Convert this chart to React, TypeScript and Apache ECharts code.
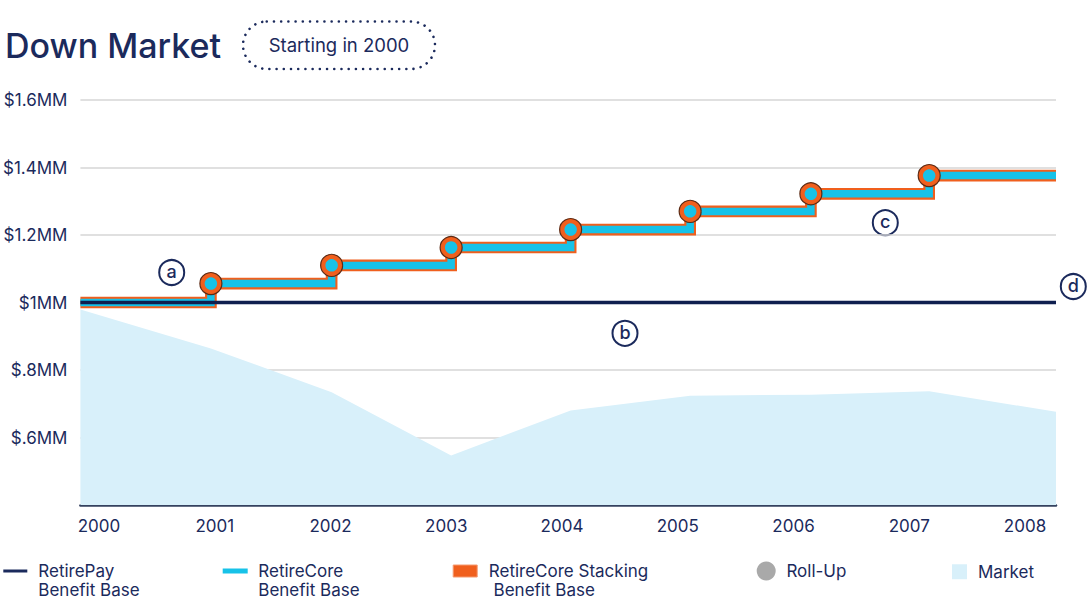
import React, { useEffect, useRef } from 'react';
import * as echarts from 'echarts';

const NAVY = '#1b2a5c';
const ORANGE = '#f05f1d';
const CYAN = '#17c2e8';
const MARKET_FILL = '#d8f0fa';
const GRID_COLOR = '#d6d6d6';
const AXIS_COLOR = '#34425f';
const FONT = 'Inter';

// Data
const pointYears = [2000, 2001.07, 2002.06, 2003.04, 2004.02, 2005.0, 2005.99, 2006.96, 2008];
const marketValues = [0.979, 0.864, 0.734, 0.547, 0.68, 0.724, 0.727, 0.737, 0.676];
const coreValues = [1.0, 1.056, 1.11, 1.163, 1.216, 1.27, 1.322, 1.376, 1.376];
const rollUpYears = [2001.07, 2002.06, 2003.04, 2004.02, 2005.0, 2005.99, 2006.96];
const rollUpValues = [1.056, 1.11, 1.163, 1.216, 1.27, 1.322, 1.376];
const payYears = [2000, 2008];
const payValues = [1.0, 1.0];
const xTickLabels = ['2000', '2001', '2002', '2003', '2004', '2005', '2006', '2007', '2008'];
const yTickValues = [0.4, 0.6, 0.8, 1.0, 1.2, 1.4, 1.6];
const yTickLabels = ['', '$.6MM', '$.8MM', '$1MM', '$1.2MM', '$1.4MM', '$1.6MM'];

const PAY = 'RetirePay\nBenefit Base';
const CORE = 'RetireCore\nBenefit Base';
const STACK = 'RetireCore Stacking\n Benefit Base';
const ROLL = 'Roll-Up';
const MARKET = 'Market';

const zip = (xs: number[], ys: number[]) => xs.map((x, i) => [x, ys[i]]);

function legendItem(name: string, left: number, top: number, w: number, h: number, icon: string, itemStyle: any, twoLine: boolean, padLeft: number) {
  return {
    orient: 'horizontal',
    left,
    top,
    padding: 0,
    itemGap: 0,
    itemWidth: w,
    itemHeight: h,
    selectedMode: false,
    formatter: (n: string) => (twoLine ? '\n' + n : n),
    data: [{ name, icon, itemStyle: { borderWidth: 0, ...itemStyle } }],
    textStyle: {
      fontFamily: FONT,
      fontSize: 17,
      color: NAVY,
      lineHeight: 18.5,
      padding: [0, 0, 0, padLeft],
    },
  };
}

function annotation(letter: string, cx: number, cy: number) {
  return {
    type: 'group',
    children: [
      { type: 'circle', shape: { cx, cy, r: 12.5 }, style: { fill: '#fff', stroke: NAVY, lineWidth: 2 } },
      {
        type: 'text',
        x: cx,
        y: cy - 1,
        style: { text: letter, fill: NAVY, font: `500 18px ${FONT}`, align: 'center', verticalAlign: 'middle' },
      },
    ],
  };
}

export default function App() {
  const ref = useRef<HTMLDivElement>(null);

  useEffect(() => {
    if (!ref.current) return;
    const chart = echarts.init(ref.current, undefined, { renderer: 'svg' });
    const option: any = {
      animation: false,
      title: {
        text: 'Down Market',
        left: 5,
        top: 28,
        padding: 0,
        textStyle: { fontFamily: FONT, fontSize: 34, fontWeight: 500, color: NAVY },
      },
      grid: [
        { left: 79, right: 32, top: 100, bottom: 111 },
        { left: 41.125, right: 5.125, top: 100, bottom: 111 },
      ],
      xAxis: [
        {
          type: 'value',
          gridIndex: 0,
          min: 2000,
          max: 2008,
          axisLine: { show: true, lineStyle: { color: AXIS_COLOR, width: 2.5 } },
          axisTick: { show: false },
          axisLabel: { show: false },
          splitLine: { show: false },
        },
        {
          type: 'category',
          gridIndex: 1,
          data: xTickLabels,
          boundaryGap: true,
          axisLine: { show: false },
          axisTick: { show: false },
          splitLine: { show: false },
          axisLabel: { margin: 12, fontFamily: FONT, fontSize: 17, color: NAVY },
        },
      ],
      yAxis: [
        {
          type: 'value',
          gridIndex: 0,
          min: 0.4,
          max: 1.6,
          interval: 0.2,
          axisLine: { show: false },
          axisTick: { show: false },
          splitLine: { show: true, lineStyle: { color: GRID_COLOR, width: 1.5 } },
          axisLabel: {
            margin: 13,
            fontFamily: FONT,
            fontSize: 17,
            color: NAVY,
            formatter: (v: number) => {
              const i = yTickValues.findIndex((t) => Math.abs(t - v) < 1e-6);
              return i >= 0 ? yTickLabels[i] : '';
            },
          },
        },
        { type: 'value', gridIndex: 1, show: false },
      ],
      legend: [
        legendItem(PAY, 3.3, 543.25, 24, 3, 'rect', { color: NAVY }, true, 6),
        legendItem(CORE, 222.7, 543.25, 25, 5, 'rect', { color: CYAN }, true, 5.6),
        legendItem(STACK, 452.7, 543.25, 24, 12, 'rect', { color: ORANGE, borderColor: '#f59a70', borderWidth: 1 }, true, 6.6),
        legendItem(ROLL, 756.7, 561.5, 19, 19, 'circle', { color: '#a9a9a9' }, false, 5.7),
        legendItem(MARKET, 952, 562.5, 15, 15, 'rect', { color: MARKET_FILL }, false, 6),
      ],
      graphic: [
        {
          type: 'rect',
          shape: { x: 243, y: 21.5, width: 192, height: 47.5, r: 23.75 },
          style: { fill: 'none', stroke: NAVY, lineWidth: 2.6, lineDash: [0.01, 7.2], lineCap: 'round' },
        },
        {
          type: 'text',
          x: 339,
          y: 45,
          style: { text: 'Starting in 2000', fill: NAVY, font: `400 18.5px ${FONT}`, align: 'center', verticalAlign: 'middle' },
        },
        annotation('a', 171.7, 272.5),
        annotation('b', 625, 333.3),
        annotation('c', 885.3, 222.7),
        annotation('d', 1073.3, 286.5),
      ],
      series: [
        {
          name: MARKET,
          type: 'line',
          xAxisIndex: 0,
          yAxisIndex: 0,
          data: zip(pointYears, marketValues),
          symbol: 'none',
          color: MARKET_FILL,
          lineStyle: { width: 0 },
          areaStyle: { color: MARKET_FILL, opacity: 1 },
          silent: true,
          z: 1,
        },
        {
          name: STACK,
          type: 'line',
          data: zip(pointYears, coreValues),
          step: 'end',
          symbol: 'none',
          color: ORANGE,
          lineStyle: { color: ORANGE, width: 11.7, join: 'miter', cap: 'butt' },
          silent: true,
          z: 2,
        },
        {
          name: CORE,
          type: 'line',
          data: zip(pointYears, coreValues),
          step: 'end',
          symbol: 'none',
          color: CYAN,
          lineStyle: { color: CYAN, width: 7.5, join: 'miter', cap: 'butt' },
          silent: true,
          z: 3,
        },
        {
          name: PAY,
          type: 'line',
          data: zip(payYears, payValues),
          symbol: 'none',
          color: NAVY,
          lineStyle: { color: '#0f1f4f', width: 3.3 },
          silent: true,
          z: 4,
        },
        {
          name: ROLL,
          type: 'scatter',
          data: zip(rollUpYears, rollUpValues),
          symbol: 'circle',
          symbolSize: 22,
          itemStyle: { color: ORANGE, borderColor: '#5b2a14', borderWidth: 1.2, opacity: 1 },
          silent: true,
          z: 5,
        },
        {
          name: ROLL,
          type: 'scatter',
          data: zip(rollUpYears, rollUpValues),
          symbol: 'circle',
          symbolSize: 12.5,
          itemStyle: { color: CYAN, opacity: 1 },
          silent: true,
          z: 6,
        },
      ],
    };
    chart.setOption(option);
    return () => chart.dispose();
  }, []);

  return (
    <div
      ref={ref}
      style={{ position: 'absolute', left: 0, top: 0, width: 1088, height: 616, background: '#fff' }}
    />
  );
}
